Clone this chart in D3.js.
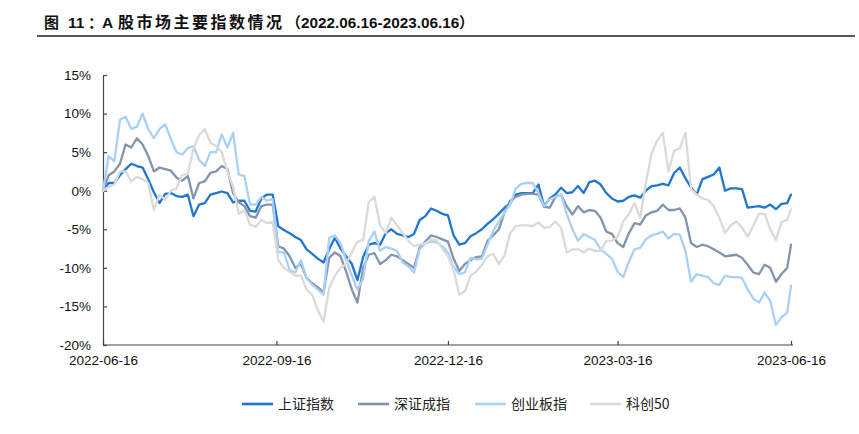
<!DOCTYPE html>
<html><head><meta charset="utf-8">
<script src="https://cdn.jsdelivr.net/npm/d3@7"></script>
<style>body{margin:0;background:#fff} svg{display:block}</style>
</head><body>
<svg id="chart" width="859" height="434"></svg>
<script>
const dates = [
"2022-06-16","2022-06-19","2022-06-22","2022-06-25","2022-06-28","2022-07-01","2022-07-04","2022-07-07","2022-07-10","2022-07-13",
"2022-07-16","2022-07-19","2022-07-22","2022-07-25","2022-07-28","2022-07-31","2022-08-03","2022-08-06","2022-08-09","2022-08-12",
"2022-08-15","2022-08-18","2022-08-21","2022-08-24","2022-08-27","2022-08-30","2022-09-02","2022-09-05","2022-09-08","2022-09-11",
"2022-09-14","2022-09-17","2022-09-20","2022-09-23","2022-09-26","2022-09-29","2022-10-02","2022-10-05","2022-10-08","2022-10-11",
"2022-10-14","2022-10-17","2022-10-20","2022-10-23","2022-10-26","2022-10-29","2022-11-01","2022-11-04","2022-11-07","2022-11-10",
"2022-11-13","2022-11-16","2022-11-19","2022-11-22","2022-11-25","2022-11-28","2022-12-01","2022-12-04","2022-12-07","2022-12-10",
"2022-12-13","2022-12-16","2022-12-19","2022-12-22","2022-12-25","2022-12-28","2022-12-31","2023-01-03","2023-01-06","2023-01-09",
"2023-01-12","2023-01-15","2023-01-18","2023-01-21","2023-01-24","2023-01-27","2023-01-30","2023-02-02","2023-02-05","2023-02-08",
"2023-02-11","2023-02-14","2023-02-17","2023-02-20","2023-02-23","2023-02-26","2023-03-01","2023-03-04","2023-03-07","2023-03-10",
"2023-03-13","2023-03-16","2023-03-19","2023-03-22","2023-03-25","2023-03-28","2023-03-31","2023-04-03","2023-04-06","2023-04-09",
"2023-04-12","2023-04-15","2023-04-18","2023-04-21","2023-04-24","2023-04-27","2023-04-30","2023-05-03","2023-05-06","2023-05-09",
"2023-05-12","2023-05-15","2023-05-18","2023-05-21","2023-05-24","2023-05-27","2023-05-30","2023-06-02","2023-06-05","2023-06-08",
"2023-06-11","2023-06-14","2023-06-16"];

const shanghai = [
0,1.0,1.0,2.0,2.8,3.5,3.2,3.0,1.5,-0.2,
-1.6,-0.4,-0.3,-0.7,-0.8,-0.5,-3.3,-1.8,-1.6,-0.5,
-0.3,-0.1,-0.3,-1.5,-1.3,-1.3,-2.6,-2.7,-1.0,-0.5,
-0.5,-4.6,-5.1,-5.5,-6.0,-6.4,-7.6,-8.2,-8.8,-9.3,
-7.6,-6.1,-7.5,-8.5,-9.5,-11.6,-8.6,-7.0,-6.8,-7.0,
-5.5,-5.0,-5.6,-5.8,-6.0,-5.6,-3.8,-3.3,-2.3,-2.6,
-3.0,-3.2,-5.8,-7.0,-6.8,-5.9,-5.5,-5.0,-4.3,-3.7,
-3.0,-2.2,-1.6,-0.5,-0.3,-0.3,-0.3,0.8,-2.0,-1.0,
-0.5,0.4,-0.3,-0.2,0.6,-0.3,1.1,1.3,0.8,-0.3,
-1.0,-1.4,-1.3,-0.8,-0.6,-0.9,0.0,0.6,0.7,0.9,
0.7,2.3,3.0,1.6,0.4,-0.5,1.5,1.8,2.1,3.0,
0.0,0.3,0.3,0.2,-2.2,-2.1,-2.0,-2.2,-1.8,-2.4,
-1.7,-1.6,-0.5];

const shenzhen = [
0,2.0,2.5,3.5,6.0,5.6,6.8,6.0,4.5,2.5,
3.0,2.8,2.6,1.7,1.3,1.9,-1.0,1.0,1.2,2.3,
2.5,3.2,2.8,-0.3,-1.5,-2.0,-3.3,-3.5,-2.0,-1.8,
-1.8,-7.2,-7.5,-8.5,-10.0,-9.5,-11.3,-12.0,-12.5,-13.2,
-8.7,-8.0,-8.5,-10.5,-12.8,-14.5,-10.0,-8.3,-8.1,-9.5,
-9.0,-8.3,-8.5,-9.0,-9.5,-10.0,-7.4,-6.6,-5.8,-6.0,
-6.3,-6.6,-8.8,-10.4,-9.5,-9.0,-8.6,-8.5,-6.5,-5.8,
-5.0,-2.8,-1.3,-0.8,-0.5,-0.4,-0.4,-0.5,-2.1,-2.2,
-0.8,-0.5,-2.0,-3.1,-2.0,-2.8,-2.5,-2.6,-3.5,-5.3,
-5.6,-6.8,-7.3,-5.5,-4.2,-4.4,-3.2,-2.8,-2.6,-1.8,
-2.5,-2.5,-2.3,-3.5,-6.8,-7.3,-7.0,-7.2,-7.6,-8.0,
-8.5,-8.4,-8.3,-8.7,-9.6,-10.6,-10.8,-9.6,-10.0,-11.8,
-10.8,-10.0,-7.0];

const chinext = [
0,4.5,3.8,9.2,9.6,8.0,8.3,10.0,8.0,6.8,
8.0,8.6,6.7,5.0,4.7,5.5,5.8,4.0,3.2,5.0,
5.0,7.3,5.6,7.5,2.1,1.9,-1.8,-1.8,-0.8,-1.3,
-1.1,-8.0,-8.0,-10.3,-10.6,-9.0,-11.3,-12.2,-12.8,-13.5,
-6.1,-5.8,-6.8,-9.0,-11.0,-12.8,-11.5,-6.5,-5.3,-7.8,
-7.3,-7.5,-7.8,-9.3,-9.8,-10.6,-7.6,-6.8,-6.6,-6.7,
-7.2,-8.0,-9.9,-10.8,-10.6,-8.7,-8.9,-8.8,-7.0,-5.2,
-4.0,-2.8,-1.8,0.3,0.9,1.0,1.0,-0.3,-2.0,-1.1,
-0.8,-0.5,-3.0,-5.0,-6.5,-5.6,-6.0,-6.4,-7.6,-8.2,
-8.8,-10.5,-11.2,-9.2,-7.6,-7.4,-6.3,-5.8,-5.6,-5.3,
-6.2,-5.6,-5.7,-7.8,-11.8,-10.8,-11.0,-11.2,-12.0,-12.2,
-11.0,-11.2,-11.2,-11.3,-12.8,-14.0,-14.5,-13.2,-14.3,-17.4,
-16.4,-15.8,-12.3];

const star50 = [
0,0.5,0.8,2.5,2.5,1.2,1.8,1.5,1.0,-2.5,
-0.5,-1.2,0.0,0.3,2.0,2.2,5.5,7.2,8.0,6.2,
5.8,5.0,2.5,0.5,-3.0,-2.5,-4.4,-4.7,-3.8,-4.2,
-4.0,-9.0,-10.0,-10.5,-11.0,-11.0,-12.8,-13.5,-15.5,-17.0,
-12.6,-11.0,-10.0,-9.5,-8.0,-6.6,-6.4,-1.5,-0.8,-4.5,
-5.5,-3.5,-4.5,-5.5,-6.5,-7.2,-7.0,-6.8,-6.3,-6.4,
-7.5,-8.5,-10.2,-13.5,-13.0,-11.0,-10.5,-9.6,-8.5,-8.2,
-9.5,-8.4,-5.5,-4.6,-4.5,-4.5,-4.6,-4.1,-4.8,-4.7,
-4.0,-4.8,-8.0,-7.6,-7.6,-8.0,-7.5,-7.8,-7.8,-6.5,
-6.5,-6.0,-4.0,-3.0,-1.6,-3.5,1.0,4.8,6.5,7.5,
2.5,5.2,5.5,7.5,0.2,-0.5,-1.0,-1.2,-2.0,-3.5,
-5.5,-4.5,-4.0,-4.8,-6.0,-4.5,-3.0,-3.0,-5.0,-6.4,
-4.0,-3.8,-2.4];

const seriesNames = ["上证指数","深证成指","创业板指","科创50"];
const seriesColors = ["#1f77d0","#8394ad","#abd0f6","#dadada"];
const yTickValues = [-20,-15,-10,-5,0,5,10,15];
const xTickLabels = ["2022-06-16","2022-09-16","2022-12-16","2023-03-16","2023-06-16"];

const parse = d3.utcParse("%Y-%m-%d");
const fmt = d3.utcFormat("%Y-%m-%d");
const svg = d3.select("#chart");
const FONT = "'Liberation Sans', Arial, 'Noto Sans CJK SC', sans-serif";
const CJK = "'Noto Sans CJK SC', 'Liberation Sans', sans-serif";

// Title
function tpart(x, txt, fam, size, spacing) {
  const t = svg.append("text").attr("x", x).attr("y", 28).attr("fill", "#111")
    .attr("font-weight", "bold").attr("font-family", fam).attr("font-size", size).text(txt);
  if (spacing) t.style("letter-spacing", spacing + "px");
  return t;
}
tpart(44, "图", CJK, 15);
tpart(68, "11", FONT, 15.5);
tpart(88, "：", CJK, 15);
tpart(102, "A", FONT, 15.5);
tpart(118, "股市场主要指数情况", CJK, 16, 2.5);
tpart(286, "（", CJK, 15);
tpart(301, "2022.06.16-2023.06.16", FONT, 15.3);
tpart(459, "）", CJK, 15);
svg.append("line").attr("x1", 37).attr("x2", 855).attr("y1", 36).attr("y2", 36)
  .attr("stroke", "#222").attr("stroke-width", 1.5);

// Scales
const x = d3.scaleUtc().domain([parse(xTickLabels[0]), parse(xTickLabels[xTickLabels.length-1])]).range([103, 791]);
const y = d3.scaleLinear().domain([-20, 15]).range([345, 75]);

// Axes
const yAxis = d3.axisLeft(y).tickValues(yTickValues).tickSize(-4).tickPadding(12).tickFormat(d => d + "%");
const gy = svg.append("g").attr("transform", "translate(103,0)").call(yAxis);
const xAxis = d3.axisBottom(x).tickValues(xTickLabels.map(parse)).tickSize(-4).tickPadding(10).tickFormat(fmt);
const gx = svg.append("g").attr("transform", "translate(0,345)").call(xAxis);
[gx, gy].forEach(g => {
  g.select(".domain").attr("stroke", "#444").attr("stroke-width", 1.2);
  g.selectAll(".tick line").attr("stroke", "#444").attr("stroke-width", 1.2);
  g.selectAll(".tick text").attr("font-family", FONT).attr("font-size", 13.5).attr("fill", "#111");
});
gx.select(".domain").attr("d", "M103,0H793");

// Lines
const seriesData = [shanghai, shenzhen, chinext, star50];
const line = d3.line().x(d => x(d.date)).y(d => y(d.value)).curve(d3.curveLinear);
seriesData.forEach((vals, i) => {
  const pts = dates.map((dt, j) => ({date: parse(dt), value: vals[j]}));
  svg.append("path").datum(pts).attr("d", line)
    .attr("fill", "none").attr("stroke", seriesColors[i]).attr("stroke-width", 2.3)
    .attr("stroke-linejoin", "round").attr("stroke-linecap", "round");
});

// Legend
const legendX = [242, 358, 475, 590];
const lg = svg.append("g");
seriesNames.forEach((name, i) => {
  lg.append("line").attr("x1", legendX[i]).attr("x2", legendX[i] + 31).attr("y1", 404).attr("y2", 404)
    .attr("stroke", seriesColors[i]).attr("stroke-width", 2.6);
  lg.append("text").attr("x", legendX[i] + 36).attr("y", 404).attr("dy", "0.36em")
    .attr("font-family", CJK).attr("font-size", 14).attr("fill", "#222").text(name);
});
</script>
</body></html>
